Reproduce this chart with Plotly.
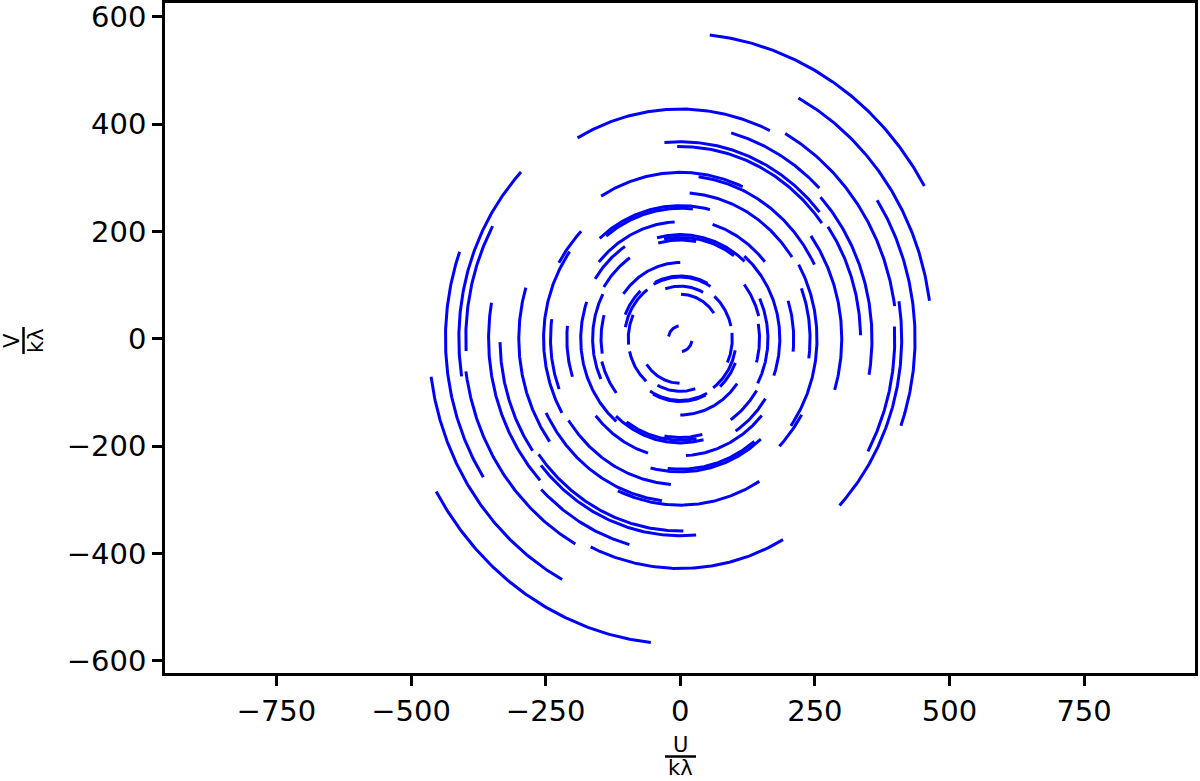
import numpy as np
import plotly.graph_objects as go

# uv tracks: one arc of each conjugate pair (the other is its point reflection)
# radius = semi-axis along V (kλ); angles in degrees on the track ellipse
track_radius = [569, 508, 428, 474, 447, 437, 433, 397, 387, 367, 358, 364, 326, 310, 304, 276, 272, 283, 262,
                248, 243, 229, 223, 218, 205, 201, 194, 189, 184, 182, 177, 164, 160, 142, 120, 117, 115, 113,
                105, 105, 98, 83, 24]
track_start = [84, 62, 119, 33, 9, 61, 3, 75, 43, 95, 91, 35, 36, 121, 83, 30, 86, 150, 21,
               131, 128, 18, 73, 139, -33, 50, 104, 100, -76, -32, 25, 38, 10, 144, 158, 116, -62, -11,
               49, 6, 108, -91, -10]
track_end = [30, 8, 65, -20, -44, 8, -29, 45, -10, 40, 37, 1, -17, 66, 27, -36, 34, 135, -8,
             76, 84, -6, 40, 93, -57, -20, 48, 55, -100, -56, -28, 15, -16, 90, 132, 62, -122, -54,
             13, -25, 62, -145, -82]
AXIS_RATIO = 0.92  # U semi-axis / V semi-axis of the tracks

x_ticks = [-750, -500, -250, 0, 250, 500, 750]
y_ticks = [-600, -400, -200, 0, 200, 400, 600]


def tick_text(vals):
    return [("\u2212" + str(abs(v))) if v < 0 else str(v) for v in vals]


us, vs = [], []
for r, a0, a1 in zip(track_radius, track_start, track_end):
    n = max(24, int(abs(a1 - a0) * 2))
    phi = np.radians(np.linspace(a0, a1, n))
    u = AXIS_RATIO * r * np.cos(phi)
    v = r * np.sin(phi)
    us += list(u) + [None] + list(-u) + [None]
    vs += list(v) + [None] + list(-v) + [None]

fig = go.Figure(go.Scatter(x=us, y=vs, mode="lines", line=dict(color="#0000ff", width=3),
                           connectgaps=False, hoverinfo="skip", showlegend=False))

L, R, T, B = 165, 5, 3, 108
W, H = 1200, 781
pw, ph = W - L - R, H - T - B


def px(xp):
    return (xp - L) / pw


def py(yp):
    return (H - B - yp) / ph


axis_common = dict(showline=True, mirror=True, linecolor="black", linewidth=2.5,
                   ticks="outside", ticklen=10, tickwidth=2.5, tickcolor="black",
                   showgrid=False, zeroline=False, automargin=False, ticklabeloverflow="allow",
                   tickfont=dict(family="DejaVu Sans", size=29, color="black"))

fig.update_layout(
    width=W, height=H, margin=dict(l=L, r=R, t=T, b=B, autoexpand=False),
    paper_bgcolor="white", plot_bgcolor="white",
    xaxis=dict(range=[-957, 956], tickvals=x_ticks, ticktext=tick_text(x_ticks), **axis_common),
    yaxis=dict(range=[-622.7, 625.5], tickvals=y_ticks, ticktext=tick_text(y_ticks), **axis_common),
    font=dict(family="DejaVu Sans", color="black"),
)

lab = dict(family="DejaVu Sans", size=21, color="black")
fig.add_annotation(text="U", xref="paper", yref="paper", x=px(680.5), y=py(745), showarrow=False,
                   font=lab, xanchor="center", yanchor="middle")
fig.add_annotation(text="k\u03bb", xref="paper", yref="paper", x=px(680.5), y=py(768), showarrow=False,
                   font=lab, xanchor="center", yanchor="middle")
fig.add_shape(type="line", xref="paper", yref="paper", x0=px(665), x1=px(696), y0=py(756.5), y1=py(756.5),
              line=dict(color="black", width=2.5))
fig.add_annotation(text="V", xref="paper", yref="paper", x=px(12), y=py(341), showarrow=False,
                   font=lab, textangle=-90, xanchor="center", yanchor="middle")
fig.add_annotation(text="k\u03bb", xref="paper", yref="paper", x=px(36), y=py(341), showarrow=False,
                   font=lab, textangle=-90, xanchor="center", yanchor="middle")
fig.add_shape(type="line", xref="paper", yref="paper", x0=px(23.5), x1=px(23.5), y0=py(327), y1=py(354),
              line=dict(color="black", width=2.5))

fig.write_html("out.html", config={"displayModeBar": False},
               post_script="document.body.style.margin='0';document.body.style.overflow='hidden';")
